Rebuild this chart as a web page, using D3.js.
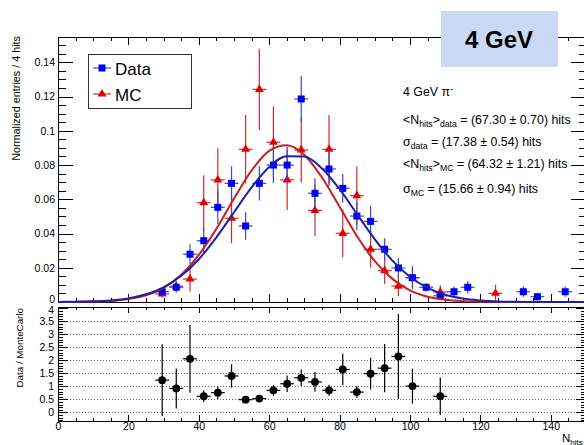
<!DOCTYPE html>
<html>
<meta charset="utf-8">
<style>
    body { margin: 0; background: #fff; }
    svg { display: block; font-family: "Liberation Sans", Arial, sans-serif; }
</style>
<body>
<svg width="584" height="445"></svg>
<script src="https://d3js.org/d3.v7.min.js"></script>
<script>

    // bin centres (bin width ~3.95 hits)
    let dataX = [29.6, 33.6, 37.5, 41.4, 45.4, 49.3, 53.3, 57.2, 61.2, 65.1, 69.1, 73.0, 77.0,
        80.9, 84.9, 88.8, 92.8, 96.7, 100.7, 104.6, 108.6, 112.5, 116.4, 132.2, 136.2, 144.1];
    let dataY = [0.0060, 0.0086, 0.0279, 0.0358, 0.0553, 0.0693, 0.0444, 0.0693, 0.0800, 0.0800,
        0.1186, 0.0635, 0.0777, 0.0664, 0.0502, 0.0471, 0.0308, 0.0199, 0.0142, 0.0086, 0.0036,
        0.0060, 0.0086, 0.0060, 0.0031, 0.0060];
    let dataErr = [0.0026, 0.0030, 0.0058, 0.0073, 0.0097, 0.0100, 0.0080, 0.0100, 0.0106, 0.0108,
        0.0134, 0.0088, 0.0100, 0.0083, 0.0083, 0.0092, 0.0065, 0.0058, 0.0068, 0.0025, 0.0020,
        0.0030, 0.0037, 0.0030, 0.0022, 0.0030];

    let mcX = [29.6, 33.6, 37.5, 41.4, 45.4, 49.3, 53.3, 57.2, 61.2, 65.1, 69.1, 73.0, 77.0,
        80.9, 84.9, 88.8, 92.8, 96.7, 100.7, 108.6, 124.3];
    let mcY = [0.0047, 0.0092, 0.0134, 0.0580, 0.0713, 0.0489, 0.0892, 0.1242, 0.0933, 0.0713,
        0.0888, 0.0535, 0.0892, 0.0401, 0.0621, 0.0308, 0.0183, 0.0093, 0.0141, 0.0058, 0.0051];
    let mcErr = [0.0022, 0.0032, 0.0073, 0.0160, 0.0185, 0.0146, 0.0200, 0.0237, 0.0210, 0.0175,
        0.0190, 0.0150, 0.0200, 0.0140, 0.0170, 0.0107, 0.0078, 0.0060, 0.0060, 0.0040, 0.0050];

    let ratioX = [29.6, 33.6, 37.5, 41.4, 45.4, 49.3, 53.3, 57.2, 61.2, 65.1, 69.1, 73.0, 77.0,
        80.9, 84.9, 88.8, 92.8, 96.7, 100.7, 108.6];
    let ratioY = [1.24, 0.92, 2.06, 0.62, 0.76, 1.40, 0.49, 0.53, 0.85, 1.10, 1.33, 1.17, 0.85,
        1.65, 0.78, 1.49, 1.70, 2.15, 1.01, 0.62];
    let ratioErr = [1.38, 0.77, 1.30, 0.22, 0.24, 0.45, 0.09, 0.11, 0.21, 0.32, 0.32, 0.38, 0.21,
        0.60, 0.23, 0.61, 0.93, 1.63, 0.67, 0.72];

    // fitted curves, sampled every 5 hits
    let fitX = [0, 5, 10, 15, 20, 25, 30, 35, 40, 45, 50, 55, 60, 65, 70, 75, 80, 85, 90, 95,
        100, 105, 110, 115, 120, 125, 130, 135, 140, 145, 150];
    let dataFit = [0.00005, 0.00014, 0.00038, 0.00093, 0.0021, 0.0045, 0.0086, 0.0153, 0.0250,
        0.0378, 0.0524, 0.0669, 0.0788, 0.0852, 0.0850, 0.0780, 0.0659, 0.0512, 0.0366, 0.0242,
        0.0147, 0.0082, 0.0042, 0.0020, 0.0009, 0.0003, 0.0001, 0, 0, 0, 0];
    let mcFit = [0.00002, 0.00007, 0.00022, 0.00064, 0.0017, 0.0039, 0.0083, 0.0159, 0.0275,
        0.0428, 0.0604, 0.0768, 0.0883, 0.0916, 0.0859, 0.0727, 0.0556, 0.0383, 0.0239, 0.0135,
        0.0068, 0.0031, 0.0013, 0.0005, 0.0002, 0.00005, 0, 0, 0, 0, 0];

    let xTicks = [0, 20, 40, 60, 80, 100, 120, 140];
    let upTicks = [0, 0.02, 0.04, 0.06, 0.08, 0.1, 0.12, 0.14];
    let lowTicks = [0, 0.5, 1, 1.5, 2, 2.5, 3, 3.5, 4];

    let binHalf = 1.97;

    let svg = d3.select("svg");
    let left = 58, right = 586;
    let up = {top: 37, bottom: 302}, low = {top: 307, bottom: 421};

    let x = d3.scaleLinear().domain([0, 150]).range([left, right]);
    let yUp = d3.scaleLinear().domain([0, 0.1548]).range([up.bottom, up.top]);
    let yLow = d3.scaleLinear().domain([-0.33, 4.05]).range([low.bottom, low.top]);

    function addAxis(axisFn, scale, tx, ty, values, len, fmt, pad) {
        let g = svg.append("g")
            .attr("transform", "translate(" + tx + "," + ty + ")")
            .call(axisFn(scale).tickValues(values).tickSize(-len).tickPadding(pad || 3)
                .tickFormat(fmt || function () { return ""; }));
        g.select(".domain").remove();
        g.attr("font-family", null).attr("font-size", 10.5);
        g.selectAll("line").attr("shape-rendering", "crispEdges");
        return g;
    }

    let minorX = d3.range(0, 151, 5);
    let minorUp = d3.range(0, 31).map(function (i) { return i * 0.005; });
    let minorLow = d3.range(-3, 41).map(function (i) { return i * 0.1; });

    // ratio grid
    svg.append("g").selectAll("line")
        .data(lowTicks.slice(0, 8))
        .enter().append("line")
        .attr("x1", left).attr("x2", right)
        .attr("y1", function (d) { return yLow(d); })
        .attr("y2", function (d) { return yLow(d); })
        .attr("stroke", "#666")
        .attr("stroke-width", 1)
        .attr("stroke-dasharray", "1,2")
        .attr("shape-rendering", "crispEdges");

    // upper pad ticks
    addAxis(d3.axisBottom, x, 0, up.bottom, minorX, 4);
    addAxis(d3.axisBottom, x, 0, up.bottom, xTicks, 8);
    addAxis(d3.axisTop, x, 0, up.top, minorX, 4);
    addAxis(d3.axisTop, x, 0, up.top, xTicks, 8);
    addAxis(d3.axisLeft, yUp, left, 0, minorUp, 7.5);
    addAxis(d3.axisLeft, yUp, left, 0, upTicks, 15, function (d) { return d3.format(".2~f")(d); }, 3)
        .selectAll("text").filter(function (d) { return d === 0; }).attr("dy", "0.05em");
    addAxis(d3.axisRight, yUp, right, 0, minorUp, 7.5);
    addAxis(d3.axisRight, yUp, right, 0, upTicks, 15);

    // lower pad ticks
    addAxis(d3.axisBottom, x, 0, low.bottom, minorX, 3);
    addAxis(d3.axisBottom, x, 0, low.bottom, xTicks, 6, function (d) { return d; }, 2);
    addAxis(d3.axisTop, x, 0, low.top, minorX, 3);
    addAxis(d3.axisTop, x, 0, low.top, xTicks, 6);
    addAxis(d3.axisLeft, yLow, left, 0, minorLow, 5);
    addAxis(d3.axisLeft, yLow, left, 0, lowTicks, 10, function (d) { return d3.format(".1~f")(d); }, 4)
        .selectAll("text").filter(function (d) { return d === 4; }).attr("dy", "0.45em");
    addAxis(d3.axisRight, yLow, right, 0, minorLow, 5);
    addAxis(d3.axisRight, yLow, right, 0, lowTicks, 10);

    // frames
    svg.append("rect").attr("x", left).attr("y", up.top)
        .attr("width", right - left).attr("height", up.bottom - up.top)
        .attr("fill", "none").attr("stroke", "#000").attr("shape-rendering", "crispEdges");
    svg.append("rect").attr("x", left).attr("y", low.top)
        .attr("width", right - left).attr("height", low.bottom - low.top)
        .attr("fill", "none").attr("stroke", "#000").attr("shape-rendering", "crispEdges");

    // error bars + markers
    function drawPoints(xs, ys, es, yScale, color, barColor, marker) {
        let pts = xs.map(function (d, i) { return {x: d, y: ys[i], e: es[i]}; });
        let g = svg.append("g");
        g.selectAll(".ev").data(pts).enter().append("line")
            .attr("x1", function (d) { return x(d.x); })
            .attr("x2", function (d) { return x(d.x); })
            .attr("y1", function (d) { return yScale(d.y - d.e); })
            .attr("y2", function (d) { return yScale(d.y + d.e); })
            .attr("stroke", barColor).attr("stroke-width", 1.2);
        g.selectAll(".eh").data(pts).enter().append("line")
            .attr("x1", function (d) { return x(d.x - binHalf); })
            .attr("x2", function (d) { return x(d.x + binHalf); })
            .attr("y1", function (d) { return yScale(d.y); })
            .attr("y2", function (d) { return yScale(d.y); })
            .attr("stroke", barColor).attr("stroke-width", 1.2);
        g.selectAll("path").data(pts).enter().append("path")
            .attr("transform", function (d) { return "translate(" + x(d.x) + "," + yScale(d.y) + ")"; })
            .attr("d", marker)
            .attr("fill", color);
    }

    let square = d3.symbol().type(d3.symbolSquare).size(49)();
    let triangle = d3.symbol().type(d3.symbolTriangle).size(34)();
    let circle = d3.symbol().type(d3.symbolCircle).size(48)();

    drawPoints(mcX, mcY, mcErr, yUp, "#e00000", "#d42a2a", triangle);
    drawPoints(dataX, dataY, dataErr, yUp, "#0000f0", "#3548d0", square);
    drawPoints(ratioX, ratioY, ratioErr, yLow, "#000", "#000", circle);

    // fit curves
    let line = d3.line()
        .x(function (d) { return x(d[0]); })
        .y(function (d) { return yUp(d[1]); })
        .curve(d3.curveMonotoneX);
    svg.append("path")
        .attr("d", line(fitX.map(function (d, i) { return [d, mcFit[i]]; })))
        .attr("fill", "none").attr("stroke", "#c81e1e").attr("stroke-width", 2);
    svg.append("path")
        .attr("d", line(fitX.map(function (d, i) { return [d, dataFit[i]]; })))
        .attr("fill", "none").attr("stroke", "#1c22a8").attr("stroke-width", 2);

    // legend
    svg.append("rect").attr("x", 88).attr("y", 54).attr("width", 103).attr("height", 54)
        .attr("fill", "#fff").attr("stroke", "#333").attr("shape-rendering", "crispEdges");
    let legend = [
        {label: "Data", color: "#0000f0", line: "#3548d0", marker: square, y: 68},
        {label: "MC", color: "#e00000", line: "#d42a2a", marker: triangle, y: 94}
    ];
    legend.forEach(function (l) {
        svg.append("line").attr("x1", 93).attr("x2", 111).attr("y1", l.y).attr("y2", l.y)
            .attr("stroke", l.line).attr("stroke-width", 1.2);
        svg.append("path").attr("d", l.marker)
            .attr("transform", "translate(102," + l.y + ")").attr("fill", l.color);
        svg.append("text").attr("x", 115).attr("y", l.y + 6.5)
            .attr("font-size", 17).text(l.label);
    });

    // energy label box
    svg.append("rect").attr("x", 441).attr("y", 11).attr("width", 117).attr("height", 56)
        .attr("fill", "#c9d9f3");
    svg.append("text").attr("x", 499).attr("y", 48).attr("text-anchor", "middle")
        .attr("font-size", 24).attr("font-weight", "bold").text("4 GeV");

    // fit results text
    function richText(tx, ty, parts, size) {
        let t = svg.append("text").attr("x", tx).attr("y", ty).attr("font-size", size);
        let shift = 0;
        parts.forEach(function (p) {
            let target = p.sub ? 3 : (p.sup ? -4.5 : 0);
            t.append("tspan").attr("dy", target - shift)
                .attr("font-size", p.sub || p.sup ? size * 0.7 : size)
                .text(p.t);
            shift = target;
        });
        return t;
    }

    let fs = 12.4;
    richText(403, 96, [{t: "4 GeV \u03c0"}, {t: "-", sup: true}], fs);
    richText(403, 124, [{t: "<N"}, {t: "hits", sub: true}, {t: ">"}, {t: "data", sub: true},
        {t: " = (67.30 \u00b1 0.70) hits"}], fs);
    richText(403, 145.7, [{t: "\u03c3"}, {t: "data", sub: true},
        {t: " = (17.38 \u00b1 0.54) hits"}], fs);
    richText(403, 168.3, [{t: "<N"}, {t: "hits", sub: true}, {t: ">"}, {t: "MC", sub: true},
        {t: " = (64.32 \u00b1 1.21) hits"}], fs);
    richText(403, 193.3, [{t: "\u03c3"}, {t: "MC", sub: true},
        {t: " = (15.66 \u00b1 0.94) hits"}], fs);

    // axis titles
    svg.append("text")
        .attr("transform", "translate(20,36) rotate(-90)")
        .attr("text-anchor", "end").attr("font-size", 10.8)
        .text("Normalized entries / 4 hits");
    svg.append("text")
        .attr("transform", "translate(23,308) rotate(-90)")
        .attr("text-anchor", "end").attr("font-size", 9.8)
        .text("Data / MonteCarlo");
    richText(562, 441.5, [{t: "N"}, {t: "hits", sub: true}], 11.5);

</script>
</body>
</html>
